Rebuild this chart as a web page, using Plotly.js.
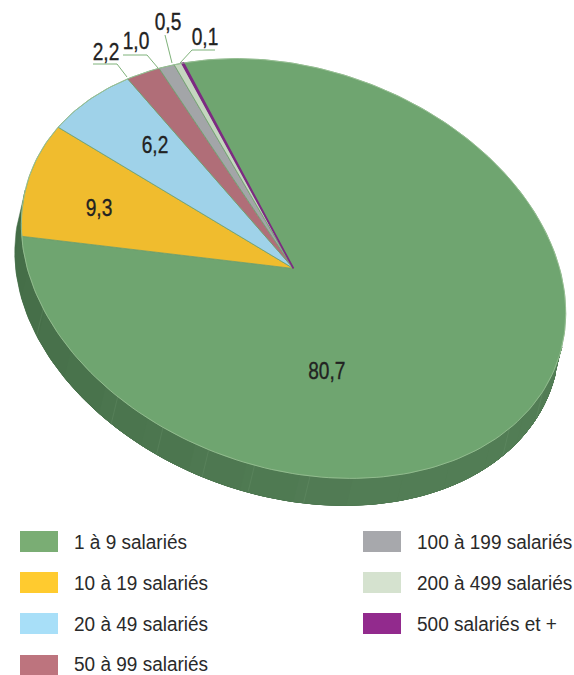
<!DOCTYPE html>
<html>
<head>
<meta charset="utf-8">
<script src="https://cdn.plot.ly/plotly-3.0.1.min.js"></script>
<style>html,body{margin:0;padding:0;background:#fff}#c{width:574px;height:675px}</style>
</head>
<body>
<div id="c"></div>
<script>
// Data
const categories = ['1 à 9 salariés','10 à 19 salariés','20 à 49 salariés','50 à 99 salariés','100 à 199 salariés','200 à 499 salariés','500 salariés et +'];
const values = [80.7, 9.3, 6.2, 2.2, 1.0, 0.5, 0.1];
const labels = ['80,7','9,3','6,2','2,2','1,0','0,5','0,1'];
const sliceColors = ['#6fa570','#f0bc2e','#9fd2e9','#b06e78','#a3a5a8','#c5d6c0','#7d2a82'];
const legendColors = ['#7aad74','#ffcb2f','#a8dff8','#bd747e','#a7a8ac','#d5e2cf','#922a8d'];

// Projection of the tilted disc (unit circle -> page pixels)
const C = [293.5, 268.5], U = [-110, -205.5], V = [249, -42.5], DEPTH = [-6.5, 27];
const SIDE_STEPS = 16;
const project = (th, d) => [
  C[0] + U[0]*Math.cos(th) + V[0]*Math.sin(th) + (d ? DEPTH[0] : 0),
  C[1] + U[1]*Math.cos(th) + V[1]*Math.sin(th) + (d ? DEPTH[1] : 0)
];
const total = values.reduce((a,b)=>a+b,0);
const traces = [];
const wallColor = k => `rgb(${Math.round(67+15*k)},${Math.round(108+17*k)},${Math.round(70+15*k)})`;

// Side wall: overlapping bands, each running to the end of the visible half
(function(){
  const a = DEPTH[0]*V[1]-DEPTH[1]*V[0], b = -(DEPTH[0]*U[1]-DEPTH[1]*U[0]);
  const t0 = Math.atan2(-a, b);
  const pm = project(t0 + Math.PI/2,false);
  const dot = (pm[0]-C[0])*DEPTH[0]+(pm[1]-C[1])*DEPTH[1];
  const start = dot>0 ? t0 : t0+Math.PI;
  const end = start+Math.PI;
  const leftFirst = project(start,false)[0] < project(end,false)[0];
  for(let s=0;s<SIDE_STEPS;s++){
    const f = s/SIDE_STEPS;
    const th0 = leftFirst ? start+Math.PI*f : start;
    const th1 = leftFirst ? end : end-Math.PI*f;
    const n = 120;
    const xs=[], ys=[];
    for(let i=0;i<=n;i++){const p=project(th0+(th1-th0)*i/n,false);xs.push(p[0]);ys.push(p[1]);}
    for(let i=n;i>=0;i--){const p=project(th0+(th1-th0)*i/n,true);xs.push(p[0]);ys.push(p[1]);}
    const col = wallColor(Math.min(1,f*1.6));
    traces.push({type:'scatter',mode:'lines',x:xs,y:ys,fill:'toself',fillcolor:col,line:{color:col,width:0.5},hoverinfo:'skip',showlegend:false});
  }
})();

const seamAnchors = [[47,308],[120,395],[165,425],[210,447],[255,463],[310,475],[498,420],[530,385]];
const det = U[0]*V[1]-V[0]*U[1];
seamAnchors.forEach(q=>{
  const dx=q[0]-C[0], dy=q[1]-C[1];
  const c=(dx*V[1]-dy*V[0])/det, s=(U[0]*dy-U[1]*dx)/det;
  const th=Math.atan2(s,c);
  const p=project(th,false), p2=project(th,true);
  traces.push({type:'scatter',mode:'lines',x:[p[0],p2[0]],y:[p[1],p2[1]],
    line:{color:'rgba(140,180,140,0.2)',width:0.8},hoverinfo:'skip',showlegend:false});
});

// Slices
let cum = 0;
values.forEach((v,i)=>{
  const a0 = cum/total*2*Math.PI, a1 = (cum+v)/total*2*Math.PI;
  cum += v;
  const n = Math.max(4, Math.ceil((a1-a0)*60));
  const xs=[C[0]], ys=[C[1]];
  for(let j=0;j<=n;j++){const p=project(a0+(a1-a0)*j/n,false);xs.push(p[0]);ys.push(p[1]);}
  xs.push(C[0]); ys.push(C[1]);
  const isThin = v < 0.3;
  traces.push({type:'scatter',mode:'lines',x:xs,y:ys,fill:'toself',fillcolor:sliceColors[i],
    line:{color:isThin ? sliceColors[i] : '#6d9e6c',width:isThin ? 1.6 : 0.8},name:categories[i],hoverinfo:'name',showlegend:false});
});

// Rim highlight
(function(){
  const xs=[],ys=[];
  for(let j=0;j<=240;j++){const p=project(j/240*2*Math.PI,false);xs.push(p[0]);ys.push(p[1]);}
  traces.push({type:'scatter',mode:'lines',x:xs,y:ys,line:{color:'#9cc498',width:0.8},hoverinfo:'skip',showlegend:false});
})();

// Leader lines (page pixels)
const leaders = [
  [[93,64],[117,64],[127,77]],
  [[123,55],[147,55],[158,68]],
  [[165,35],[172,63]],
  [[215,50],[192,50],[180,63]]
];
leaders.forEach(l=>{
  traces.push({type:'scatter',mode:'lines',x:l.map(p=>p[0]),y:l.map(p=>p[1]),line:{color:'#7fb27a',width:1},hoverinfo:'skip',showlegend:false});
});

const FONT = '"Liberation Sans",Arial,sans-serif';
const labelPos = [[327,370],[99,207],[155,144],[105.5,51],[136,40],[167.5,21],[205,36.5]];
const annotations = labels.map((t,i)=>({
  x:labelPos[i][0],y:labelPos[i][1],xref:'x',yref:'y',text:t,showarrow:false,xanchor:'center',yanchor:'middle',
  font:{family:FONT,size:24.5,color:'#222'}
}));

// Legend
const legendCells = [[20,531],[20,572],[20,613],[20,655],[363,531],[363,572],[363,613]];
const legendTextY = [541.5,582.5,623.5,663,541.5,582.5,623.5];
const shapes = legendCells.map((c,i)=>({type:'rect',xref:'x',yref:'y',x0:c[0],x1:c[0]+38,y0:c[1],y1:Math.min(c[1]+21,675),fillcolor:legendColors[i],line:{width:0}}));
legendCells.forEach((c,i)=>{
  annotations.push({x:c[0]+52,y:legendTextY[i],xref:'x',yref:'y',text:categories[i],showarrow:false,xanchor:'left',yanchor:'middle',
    font:{family:FONT,size:21,color:'#2a2a2a'}});
});

const layout = {
  width:574,height:675,margin:{l:0,r:0,t:0,b:0},paper_bgcolor:'#fff',plot_bgcolor:'#fff',showlegend:false,
  xaxis:{range:[0,574],visible:false,fixedrange:true},
  yaxis:{range:[675,0],visible:false,fixedrange:true},
  annotations,shapes
};
Plotly.newPlot('c',traces,layout,{displayModeBar:false}).then(gd=>{
  // The reference uses a condensed face: narrow the real text elements.
  const LABEL_NARROW = 0.78, LEGEND_NARROW = 0.905;
  gd.querySelectorAll('.annotation-text').forEach((el,i)=>{
    const isLabel = i < labels.length;
    const w = el.getComputedTextLength();
    const r = isLabel ? LABEL_NARROW : LEGEND_NARROW;
    let x = parseFloat(el.getAttribute('x'));
    if(!isLabel){
      x -= w/2;
      el.style.textAnchor='start';
      el.setAttribute('x', x.toFixed(2));
      const bg = el.parentNode.querySelector('rect.bg');
      if(bg) bg.setAttribute('width', (w*r).toFixed(2));
    }else{
      el.style.stroke='#222';
      el.style.strokeWidth='0.35px';
    }
    el.setAttribute('transform', `translate(${x.toFixed(2)},0) scale(${r},1) translate(${(-x).toFixed(2)},0)`);
  });
});
</script>
</body>
</html>
